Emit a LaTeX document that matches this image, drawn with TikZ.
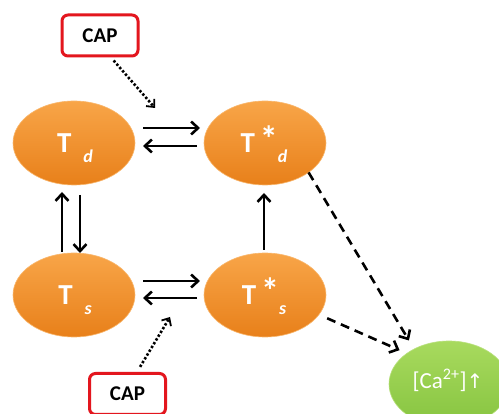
\documentclass[tikz,border=0pt]{standalone}
\usepackage{fontspec}
\setmainfont{Carlito}
\newfontfamily\symfont{DejaVu Sans}
\usetikzlibrary{shapes.geometric,arrows.meta}
\definecolor{orT}{HTML}{F8A548}
\definecolor{orB}{HTML}{E8801A}
\definecolor{grT}{HTML}{A8DA5E}
\definecolor{grB}{HTML}{86C440}
\definecolor{capred}{HTML}{E3161E}
\tikzset{
  orell/.style={ellipse, minimum width=122pt, minimum height=84pt, inner sep=0pt, outer sep=0pt, top color=orT, bottom color=orB, draw=orT!80!white, line width=0.6pt},
  grell/.style={ellipse, minimum width=120pt, minimum height=86pt, inner sep=0pt, outer sep=0pt, top color=grT, bottom color=grB, draw=grT!80!white, line width=0.6pt},
  lbl/.style={anchor=base, text=white, font=\bfseries, inner sep=0pt},
  capbox/.style={draw=capred, line width=3pt, rounded corners=6pt, fill=white, minimum width=76pt, minimum height=41pt, inner sep=0pt, font=\bfseries\fontsize{21}{23}\selectfont},
  solidarr/.style={line width=2.6pt, -{Straight Barb[length=7pt,width=13pt]}},
  dasharr/.style={line width=2.6pt, dash pattern=on 9pt off 6pt, -{Straight Barb[length=7pt,width=13pt]}},
  dotarr/.style={line width=2.6pt, dash pattern=on 2.4pt off 2pt, -{Straight Barb[length=6pt,width=11pt,line width=1.8pt]}},
}
\newcommand{\Tsub}[1]{{\fontsize{29}{31}\selectfont T}\hspace{12pt}\raisebox{-10pt}{\fontsize{18}{20}\selectfont\itshape #1}}
\newcommand{\Tstarsub}[1]{{\fontsize{29}{31}\selectfont T\hspace{5pt}\raisebox{1pt}{\fontsize{36}{38}\selectfont *}}\raisebox{-10pt}{\fontsize{18}{20}\selectfont\itshape #1}}
\begin{document}
\begin{tikzpicture}[x=1pt,y=-1pt]
\useasboundingbox (0,0) rectangle (499,414);
\clip (0,0) rectangle (499,414);
\fill[white] (0,0) rectangle (499,414);

\node[orell] (Td) at (74,143) {};
\node[orell] (Tsd) at (265,143) {};
\node[orell] (Ts) at (74,295) {};
\node[orell] (Tss) at (265,295) {};
\node[grell] (Ca) at (449,384) {};

\node[lbl] (TdL) at (75,153) {\Tsub{d}};
\node[lbl] (TsdL) at (264,153) {\Tstarsub{d}};
\node[lbl] (TsL) at (75,305) {\Tsub{s}};
\node[lbl] (TssL) at (264,305) {\Tstarsub{s}};
\node[anchor=base, text=white, inner sep=0pt, font=\fontsize{23}{25}\selectfont] (CaL) at (448,389) {[Ca\textsuperscript{2+}]{\symfont\fontsize{20}{22}\selectfont ↑}};

\node[capbox] (capT) at (100,35.5) {CAP};
\node[capbox] (capB) at (127.5,394) {CAP};

% horizontal pairs
\draw[solidarr, shorten <=8pt, shorten >=4pt] ([yshift=15pt]Td.east) -- ([yshift=15pt]Tsd.west);
\draw[solidarr, shorten <=7pt, shorten >=8pt] ([yshift=-3pt]Tsd.west) -- ([yshift=-3pt]Td.east);
\draw[solidarr, shorten <=8pt, shorten >=4pt] ([yshift=14pt]Ts.east) -- ([yshift=14pt]Tss.west);
\draw[solidarr, shorten <=7pt, shorten >=8pt] ([yshift=-3pt]Tss.west) -- ([yshift=-3pt]Ts.east);

% vertical
\draw[solidarr, shorten <=1pt, shorten >=7pt] ([xshift=-12pt]Ts.north) -- ([xshift=-12pt]Td.south);
\draw[solidarr, shorten <=10pt, shorten >=0pt] ([xshift=6pt]Td.south) -- ([xshift=6pt]Ts.north);
\draw[solidarr, shorten <=3pt, shorten >=8pt] ([xshift=-1pt]Tss.north) -- ([xshift=-1pt]Tsd.south);

% dashed to Ca
\draw[dasharr, shorten >=10pt] (Tsd.-34) -- (Ca.135);
\draw[dasharr, shorten <=9pt, shorten >=8pt] (Tss.-20) -- (Ca.144);

% dotted from CAP
\coordinate (ctT) at (155,108);
\coordinate (ctB) at (170,317);
\draw[dotarr, shorten <=4pt] ([xshift=11pt]capT.south) -- (ctT);
\draw[dotarr, shorten <=6pt] ([xshift=9.5pt]capB.north) -- (ctB);
\end{tikzpicture}
\end{document}
